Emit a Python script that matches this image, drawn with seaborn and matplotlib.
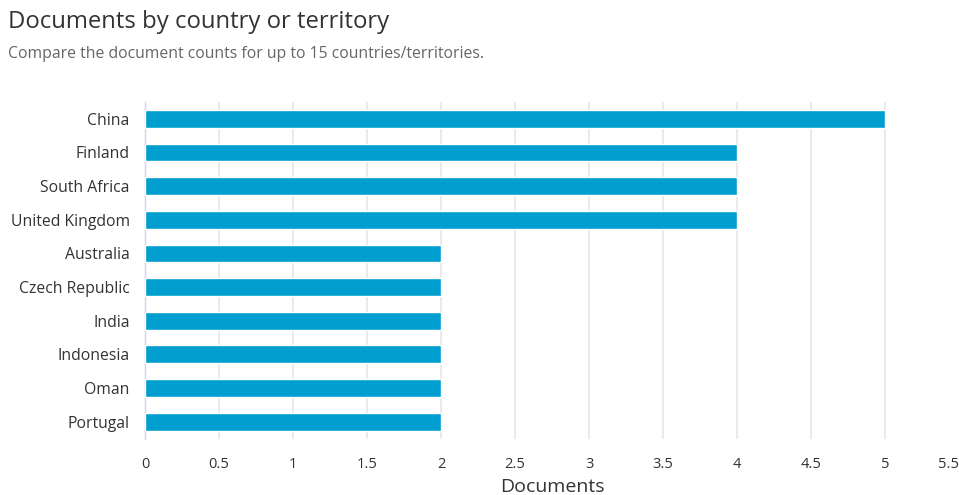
import matplotlib
matplotlib.use("Agg")
import matplotlib.pyplot as plt
import seaborn as sns
import pandas as pd

# Data
countries = ["China", "Finland", "South Africa", "United Kingdom", "Australia",
             "Czech Republic", "India", "Indonesia", "Oman", "Portugal"]
documents = [5, 4, 4, 4, 2, 2, 2, 2, 2, 2]
x_ticks = [0, 0.5, 1, 1.5, 2, 2.5, 3, 3.5, 4, 4.5, 5, 5.5]

df = pd.DataFrame({"country": countries, "documents": documents})

sns.set_theme(style="white")
plt.rcParams["font.family"] = ["Open Sans", "DejaVu Sans"]

W, H = 959, 495
fig = plt.figure(figsize=(W / 100, H / 100), dpi=100)
ax = fig.add_axes([145 / W, 1 - 438.5 / H, (959 - 145) / W, (438.5 - 102) / H])

sns.barplot(data=df, x="documents", y="country", orient="h",
            color="#009fcf", saturation=1, width=0.53, ax=ax, zorder=3)

ax.set_xlim(0, 5.5)
ax.set_xticks(x_ticks)
ax.set_xticklabels([f"{t:g}" for t in x_ticks])
ax.grid(axis="x", color="#e6e6e6", linewidth=1.2, zorder=0)
ax.grid(axis="y", visible=False)
ax.xaxis.get_gridlines()[-1].set_visible(False)
for side in ["top", "right", "bottom"]:
    ax.spines[side].set_visible(False)
ax.spines["left"].set_color("#ccd6eb")
ax.spines["left"].set_linewidth(1)

ax.tick_params(axis="x", length=0, labelsize=10.5, labelcolor="#333333", pad=13)
ax.tick_params(axis="y", length=0, labelsize=11.3, labelcolor="#333333", pad=11)
ax.get_xticklabels()[-1].set_ha("right")

ax.set_ylabel("")
ax.set_xlabel("")
fig.text(552 / W, 1 - 487 / H, "Documents", fontsize=14, color="#333333",
         ha="center", va="center")

fig.text(8 / W, 1 - 22 / H, "Documents by country or territory",
         fontsize=17.2, color="#333333", va="center", ha="left")
fig.text(8 / W, 1 - 54 / H,
         "Compare the document counts for up to 15 countries/territories.",
         fontsize=11.3, color="#666666", va="center", ha="left")

fig.savefig("out.png", dpi=100)
